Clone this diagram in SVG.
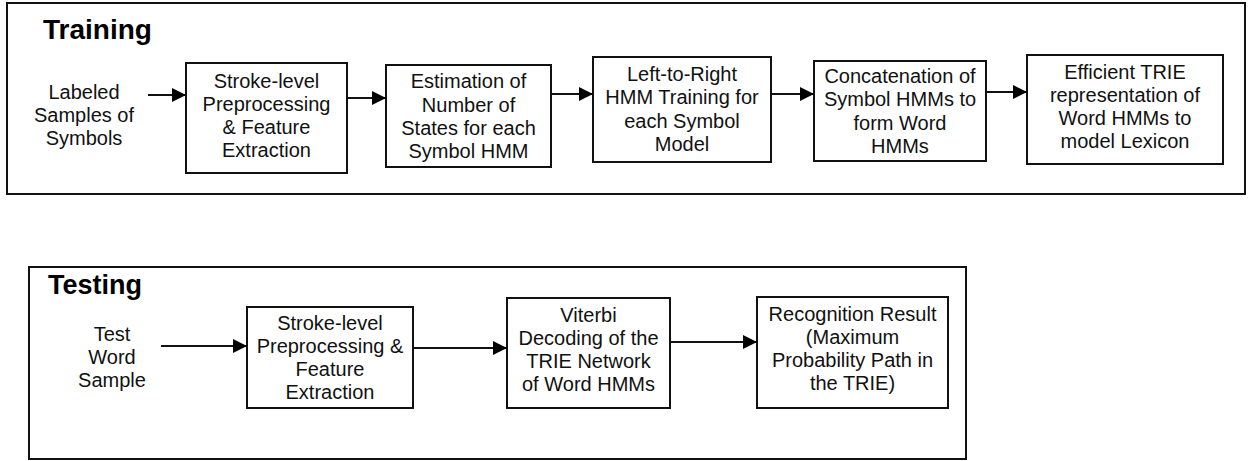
<svg xmlns="http://www.w3.org/2000/svg" width="1248" height="461" viewBox="0 0 1248 461">
<style>
.frame{fill:#fff;stroke:#111;stroke-width:2}
.box{fill:#fff;stroke:#111;stroke-width:2}
.t{font-family:"Liberation Sans",Arial,sans-serif;font-size:20px;fill:#111;text-anchor:middle}
.title{font-family:"Liberation Sans",Arial,sans-serif;font-size:28px;font-weight:bold;fill:#000}
.conn{stroke:#111;stroke-width:2;fill:none;marker-end:url(#ah)}
</style>
<defs>
<marker id="ah" viewBox="0 0 14 14" refX="14" refY="7" markerWidth="14" markerHeight="14" markerUnits="userSpaceOnUse" orient="auto">
<path d="M0,0 L14,7 L0,14 z" fill="#000"/>
</marker>
</defs>
<rect width="1248" height="461" fill="#fff"/>
<g id="training-frame">
<rect class="frame" x="7" y="3" width="1238" height="191"/>
<text class="title" x="43" y="39">Training</text>
</g>
<g id="testing-frame">
<rect class="frame" x="29" y="267" width="937" height="192"/>
<text class="title" x="48" y="294" style="font-size:27px">Testing</text>
</g>
<g id="labeled-samples">
<text class="t" x="84" y="99">Labeled</text>
<text class="t" x="84" y="122">Samples of</text>
<text class="t" x="84" y="145">Symbols</text>
</g>
<g id="train-preprocess">
<rect class="box" x="186" y="63" width="161" height="110"/>
<text class="t" x="266.5" y="88">Stroke-level</text>
<text class="t" x="266.5" y="111">Preprocessing</text>
<text class="t" x="266.5" y="134">&amp; Feature</text>
<text class="t" x="266.5" y="157">Extraction</text>
</g>
<g id="estimation">
<rect class="box" x="386" y="65" width="165" height="102"/>
<text class="t" x="468.5" y="88">Estimation of</text>
<text class="t" x="468.5" y="111.5">Number of</text>
<text class="t" x="468.5" y="135">States for each</text>
<text class="t" x="468.5" y="158">Symbol HMM</text>
</g>
<g id="hmm-training">
<rect class="box" x="593" y="57" width="178" height="105"/>
<text class="t" x="682" y="81">Left-to-Right</text>
<text class="t" x="682" y="104">HMM Training for</text>
<text class="t" x="682" y="128">each Symbol</text>
<text class="t" x="682" y="151">Model</text>
</g>
<g id="concatenation">
<rect class="box" x="814" y="61" width="172" height="100"/>
<text class="t" x="900" y="83">Concatenation of</text>
<text class="t" x="900" y="106">Symbol HMMs to</text>
<text class="t" x="900" y="130">form Word</text>
<text class="t" x="900" y="153">HMMs</text>
</g>
<g id="trie">
<rect class="box" x="1027" y="55" width="196" height="109"/>
<text class="t" x="1125" y="79">Efficient TRIE</text>
<text class="t" x="1125" y="102">representation of</text>
<text class="t" x="1125" y="125">Word HMMs to</text>
<text class="t" x="1125" y="148">model Lexicon</text>
</g>
<g id="test-word">
<text class="t" x="112" y="341">Test</text>
<text class="t" x="112" y="364">Word</text>
<text class="t" x="112" y="387">Sample</text>
</g>
<g id="test-preprocess">
<rect class="box" x="247" y="307" width="166" height="101"/>
<text class="t" x="330" y="330">Stroke-level</text>
<text class="t" x="330" y="353">Preprocessing &amp;</text>
<text class="t" x="330" y="376">Feature</text>
<text class="t" x="330" y="399">Extraction</text>
</g>
<g id="viterbi">
<rect class="box" x="507" y="298" width="163" height="110"/>
<text class="t" x="588.5" y="322">Viterbi</text>
<text class="t" x="588.5" y="345">Decoding of the</text>
<text class="t" x="588.5" y="368">TRIE Network</text>
<text class="t" x="588.5" y="391">of Word HMMs</text>
</g>
<g id="result">
<rect class="box" x="757" y="297" width="191" height="111"/>
<text class="t" x="852.5" y="321">Recognition Result</text>
<text class="t" x="852.5" y="344">(Maximum</text>
<text class="t" x="852.5" y="367">Probability Path in</text>
<text class="t" x="852.5" y="390">the TRIE)</text>
</g>
<g id="connectors">
<line class="conn" x1="148" y1="95" x2="186" y2="95"/>
<line class="conn" x1="347" y1="98" x2="386" y2="98"/>
<line class="conn" x1="551" y1="94" x2="593" y2="94"/>
<line class="conn" x1="771" y1="94" x2="814" y2="94"/>
<line class="conn" x1="986" y1="92" x2="1027" y2="92"/>
<line class="conn" x1="161" y1="346" x2="247" y2="346"/>
<line class="conn" x1="413" y1="348" x2="507" y2="348"/>
<line class="conn" x1="670" y1="342" x2="757" y2="342"/>
</g>
</svg>
